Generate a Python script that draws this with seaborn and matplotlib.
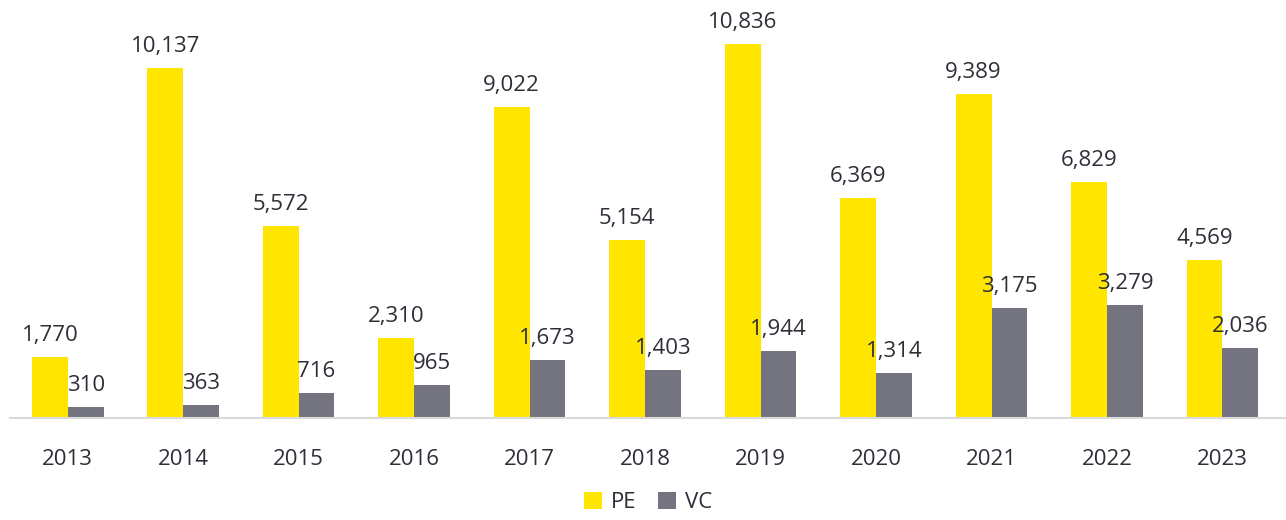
import pandas as pd
import seaborn as sns
import matplotlib.pyplot as plt

sns.set_style('white')
plt.rcParams['font.family'] = ['Open Sans', 'DejaVu Sans']

years = ['2013', '2014', '2015', '2016', '2017', '2018', '2019', '2020', '2021', '2022', '2023']
pe_values = [1770, 10137, 5572, 2310, 9022, 5154, 10836, 6369, 9389, 6829, 4569]
vc_values = [310, 363, 716, 965, 1673, 1403, 1944, 1314, 3175, 3279, 2036]

df = pd.DataFrame({
    'Year': years * 2,
    'Value': pe_values + vc_values,
    'Type': ['PE'] * len(years) + ['VC'] * len(years),
})

fig = plt.figure(figsize=(12.86, 5.2), dpi=100)
ax = fig.add_axes([10 / 1286, 1 - 418 / 520, 1 - 10 / 1286, 418 / 520])

sns.barplot(data=df, x='Year', y='Value', hue='Type',
            palette={'PE': '#FFE600', 'VC': '#747480'},
            width=0.62, gap=0, saturation=1, linewidth=0, ax=ax)

# value labels above each bar
for container in ax.containers:
    ax.bar_label(container, fmt='{:,.0f}', padding=8, fontsize=16, color='#2E2E38')

ax.set_ylim(0, 12120)
ax.set_xlim(-0.5, 10.55)
ax.set_xlabel('')
ax.set_ylabel('')
ax.set_yticks([])
ax.tick_params(axis='x', length=0, pad=22, labelsize=16, labelcolor='#2E2E38')
for side in ['top', 'right', 'left']:
    ax.spines[side].set_visible(False)
ax.spines['bottom'].set_color('#D9D9D9')
ax.spines['bottom'].set_linewidth(1.5)

ax.legend(loc='lower center', bbox_to_anchor=(0.5, -0.275), ncol=2, frameon=False,
          fontsize=16, handlelength=0.8, handleheight=0.8, handletextpad=0.4,
          columnspacing=1.0, labelcolor='#2E2E38')

fig.savefig('out.png', dpi=100)
